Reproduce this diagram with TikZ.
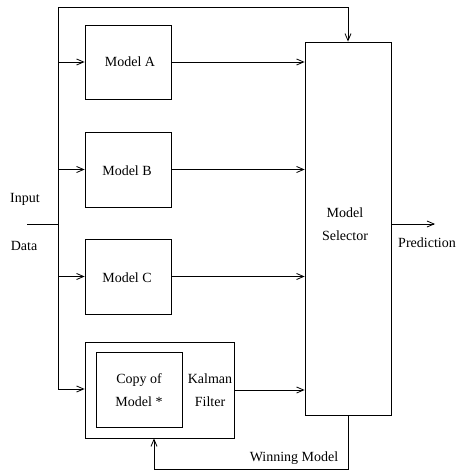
\documentclass[tikz,border=0pt]{standalone}
\usepackage{fontspec}
\setmainfont{Liberation Serif}
\usetikzlibrary{arrows.meta}
\begin{document}
\begin{tikzpicture}[x=1pt,y=-1pt,
  line width=0.8pt,
  >={Straight Barb[length=7pt,width=6pt]},
  every node/.style={font=\fontsize{14}{23}\selectfont},
  box/.style={draw,rectangle,inner sep=0pt},
  lbl/.style={inner sep=0pt,align=center}]
\useasboundingbox (0,0) rectangle (457,473);
\node[box,minimum width=86pt,minimum height=74pt] (A) at (128,62) {};
\node[lbl] at (130,62) {Model A};
\node[box,minimum width=86pt,minimum height=75pt] (B) at (128,169.5) {};
\node[lbl] at (127,171) {Model B};
\node[box,minimum width=86pt,minimum height=75pt] (C) at (128,276.5) {};
\node[lbl] at (127,278) {Model C};
\node[box,minimum width=149pt,minimum height=96pt] (K) at (159.5,390) {};
\node[box,minimum width=86pt,minimum height=75pt] (copy) at (139,389.5) {};
\node[lbl] (copyt) at (139,390) {Copy of\\Model *};
\node[lbl] (kt) at (210,390) {Kalman\\Filter};
\node[box,minimum width=86pt,minimum height=373pt] (sel) at (348,228.5) {};
\node[lbl] (selt) at (345,224) {Model\\Selector};
\node[lbl] (inp) at (25,199) {Input};
\node[lbl] (dat) at (24,246) {Data};
\node[lbl] (prt) at (427,243) {Prediction};
\node[lbl] (wmt) at (294,458) {Winning Model};
\coordinate (in) at (27,224);
\coordinate (bustop) at (58,7);
\coordinate (busbot) at (58,389);
\coordinate (pred) at (435,224);
\coordinate (fb) at (154,469);
\draw (in) -- (in -| bustop);
\draw[->] (busbot) -- (bustop) -| (sel.north);
\draw[->] (A.west -| bustop) -- (A.west);
\draw[->] (B.west -| bustop) -- (B.west);
\draw[->] (C.west -| bustop) -- (C.west);
\draw[->] (busbot) -- (busbot -| K.west);
\draw[->] (A.east) -- (A.east -| sel.west);
\draw[->] (B.east) -- (B.east -| sel.west);
\draw[->] (C.east) -- (C.east -| sel.west);
\draw[->] (K.east) -- (K.east -| sel.west);
\draw[->] (pred -| sel.east) -- (pred);
\draw[->] (sel.south) |- (fb) -- (fb |- K.south);
\end{tikzpicture}
\end{document}
